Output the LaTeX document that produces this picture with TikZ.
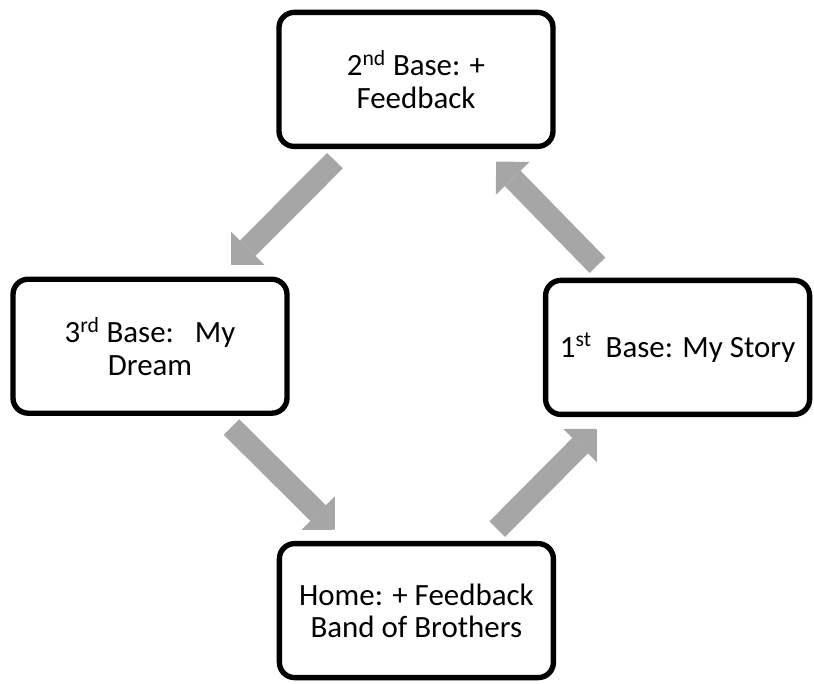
\documentclass[tikz,border=0pt]{standalone}
\usepackage{fontspec}
\setmainfont{Carlito}
\usepackage{xcolor}
\usetikzlibrary{arrows.meta}
\definecolor{arrowgray}{HTML}{A6A6A6}

\tikzset{
    base/.style={draw, line width=3.8pt, rounded corners=0.38cm, fill=white,
        minimum width=6.85cm, minimum height=3.35cm, align=center,
        font=\fontsize{22}{23}\selectfont},
    bigarrow/.style={draw=arrowgray, line width=0.55cm,
        shorten <=2.87cm, shorten >=2.87cm,
        -{Triangle[width=1.18cm,length=0.59cm,line width=0pt]}}
}

\begin{document}
\begin{tikzpicture}
    \useasboundingbox (0,0) rectangle (20.35,17.075);
    \node[base] (second) at (10.4,15.09) {2\textsuperscript{nd} Base: +\\Feedback};
    \node[base] (third) at (3.75,8.42) {3\textsuperscript{rd} Base:\ \ \ My\\Dream};
    \node[base, minimum width=6.6cm] (first) at (16.94,8.39) {1\textsuperscript{st}\ \ Base: My Story};
    \node[base] (home) at (10.41,1.81) {Home: + Feedback\\Band of Brothers};
    \foreach \a/\b in {second/third, third/home, home/first, first/second}
        { \draw[bigarrow] (\a.center) -- (\b.center); }
\end{tikzpicture}
\end{document}
